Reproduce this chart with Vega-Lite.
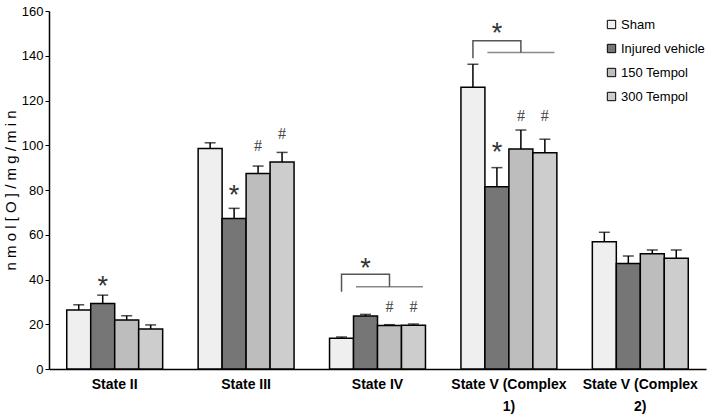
{
  "$schema": "https://vega.github.io/schema/vega-lite/v6.json",
  "width": 657,
  "height": 358,
  "autosize": {"type": "none"},
  "padding": {"left": 49, "top": 11, "right": 2, "bottom": 48},
  "background": "white",
  "config": {
    "view": {"stroke": null},
    "font": "Liberation Sans",
    "axis": {"domainColor": "black", "domainWidth": 1.5, "labelColor": "black", "tickColor": "black", "titleColor": "black", "grid": false}
  },
  "datasets": {
    "bars": [
      {"group": "State II", "series": "Sham", "mean": 26.4, "upper": 28.7},
      {"group": "State II", "series": "Injured vehicle", "mean": 29.3, "upper": 33.0},
      {"group": "State II", "series": "150 Tempol", "mean": 21.9, "upper": 23.8},
      {"group": "State II", "series": "300 Tempol", "mean": 17.9, "upper": 19.7},
      {"group": "State III", "series": "Sham", "mean": 98.6, "upper": 101.1},
      {"group": "State III", "series": "Injured vehicle", "mean": 67.3, "upper": 71.8},
      {"group": "State III", "series": "150 Tempol", "mean": 87.4, "upper": 90.7},
      {"group": "State III", "series": "300 Tempol", "mean": 92.5, "upper": 96.8},
      {"group": "State IV", "series": "Sham", "mean": 13.7, "upper": 14.3},
      {"group": "State IV", "series": "Injured vehicle", "mean": 23.7, "upper": 24.4},
      {"group": "State IV", "series": "150 Tempol", "mean": 19.4, "upper": 19.8},
      {"group": "State IV", "series": "300 Tempol", "mean": 19.6, "upper": 20.1},
      {"group": "State V (Complex 1)", "series": "Sham", "mean": 125.9, "upper": 136.2},
      {"group": "State V (Complex 1)", "series": "Injured vehicle", "mean": 81.5, "upper": 90.0},
      {"group": "State V (Complex 1)", "series": "150 Tempol", "mean": 98.3, "upper": 106.8},
      {"group": "State V (Complex 1)", "series": "300 Tempol", "mean": 96.7, "upper": 102.7},
      {"group": "State V (Complex 2)", "series": "Sham", "mean": 56.9, "upper": 61.1},
      {"group": "State V (Complex 2)", "series": "Injured vehicle", "mean": 47.2, "upper": 50.5},
      {"group": "State V (Complex 2)", "series": "150 Tempol", "mean": 51.5, "upper": 53.2},
      {"group": "State V (Complex 2)", "series": "300 Tempol", "mean": 49.5, "upper": 53.2}
    ],
    "marks": [
      {"group": "State II", "series": "Injured vehicle", "sym": "*", "v": 39.8},
      {"group": "State III", "series": "Injured vehicle", "sym": "*", "v": 80.3},
      {"group": "State III", "series": "150 Tempol", "sym": "#", "v": 100.0},
      {"group": "State III", "series": "300 Tempol", "sym": "#", "v": 105.3},
      {"group": "State IV", "series": "Injured vehicle", "sym": "*", "v": 48.0},
      {"group": "State IV", "series": "150 Tempol", "sym": "#", "v": 28.2},
      {"group": "State IV", "series": "300 Tempol", "sym": "#", "v": 28.2},
      {"group": "State V (Complex 1)", "series": "Injured vehicle", "sym": "*", "v": 99.7},
      {"group": "State V (Complex 1)", "series": "150 Tempol", "sym": "#", "v": 113.5},
      {"group": "State V (Complex 1)", "series": "300 Tempol", "sym": "#", "v": 113.5},
      {"group": "State V (Complex 1)", "series": "Injured vehicle", "sym": "*", "v": 152.7}
    ],
    "bracket": [
      {"group": "State IV", "series": "Sham", "v": 34.5, "ord": 1},
      {"group": "State IV", "series": "Sham", "v": 42.3, "ord": 2},
      {"group": "State IV", "series": "150 Tempol", "v": 42.3, "ord": 3},
      {"group": "State IV", "series": "150 Tempol", "v": 36.8, "ord": 4},
      {"group": "State V (Complex 1)", "series": "Sham", "v": 138.9, "ord": 1},
      {"group": "State V (Complex 1)", "series": "Sham", "v": 146.7, "ord": 2},
      {"group": "State V (Complex 1)", "series": "150 Tempol", "v": 146.7, "ord": 3},
      {"group": "State V (Complex 1)", "series": "150 Tempol", "v": 141.4, "ord": 4}
    ],
    "lower": [
      {"group": "State IV", "series": "150 Tempol", "v": 36.8},
      {"group": "State V (Complex 1)", "series": "150 Tempol", "v": 141.4}
    ]
  },
  "encoding": {
    "x": {
      "field": "group", "type": "nominal", "title": null,
      "scale": {"domain": ["State II", "State III", "State IV", "State V (Complex 1)", "State V (Complex 2)"], "paddingInner": 0.27, "paddingOuter": 0.135},
      "axis": {
        "labelAngle": 0, "ticks": false, "labelPadding": 8, "labelFontSize": 14, "labelFontWeight": "bold", "labelLineHeight": 22,
        "labelExpr": "datum.label == 'State V (Complex 1)' ? ['State V (Complex', '1)'] : datum.label == 'State V (Complex 2)' ? ['State V (Complex', '2)'] : datum.label"
      }
    },
    "xOffset": {
      "field": "series", "type": "nominal",
      "scale": {"domain": ["Sham", "Injured vehicle", "150 Tempol", "300 Tempol"], "paddingInner": 0, "paddingOuter": 0}
    }
  },
  "layer": [
    {
      "data": {"name": "bars"},
      "mark": {"type": "bar", "stroke": "black", "strokeWidth": 1.5},
      "encoding": {
        "y": {
          "field": "mean", "type": "quantitative",
          "scale": {"domain": [0, 160], "nice": false},
          "axis": {"values": [0, 20, 40, 60, 80, 100, 120, 140, 160], "tickSize": 4, "labelFontSize": 13, "labelPadding": 2, "title": "n m o l [ O ] / m g / m i n", "titleFontSize": 15, "titleFontWeight": "normal", "titlePadding": 3}
        },
        "fill": {
          "field": "series", "type": "nominal",
          "scale": {"domain": ["Sham", "Injured vehicle", "150 Tempol", "300 Tempol"], "range": ["#efefef", "#767676", "#bdbdbd", "#cdcdcd"]},
          "legend": {"orient": "none", "legendX": 556, "legendY": 7, "title": null, "symbolType": "square", "symbolSize": 70, "symbolStrokeColor": "black", "symbolStrokeWidth": 1, "labelFontSize": 13, "rowPadding": 10, "labelOffset": 3, "padding": 0}
        }
      }
    },
    {
      "data": {"name": "bars"},
      "mark": {"type": "rule", "color": "black", "strokeWidth": 1.5},
      "encoding": {
        "y": {"field": "mean", "type": "quantitative"},
        "y2": {"field": "upper"}
      }
    },
    {
      "data": {"name": "bars"},
      "mark": {"type": "tick", "color": "black", "thickness": 1.5, "size": 11, "orient": "horizontal"},
      "encoding": {
        "y": {"field": "upper", "type": "quantitative"}
      }
    },
    {
      "data": {"name": "marks"},
      "transform": [{"filter": "datum.sym == '*'"}],
      "mark": {"type": "text", "fontSize": 27, "color": "#333333", "baseline": "alphabetic", "dy": 15, "font": "Liberation Sans"},
      "encoding": {
        "y": {"field": "v", "type": "quantitative"},
        "text": {"field": "sym"}
      }
    },
    {
      "data": {"name": "marks"},
      "transform": [{"filter": "datum.sym == '#'"}],
      "mark": {"type": "text", "fontSize": 16, "color": "#444444", "baseline": "alphabetic", "dy": 6, "font": "Liberation Serif"},
      "encoding": {
        "y": {"field": "v", "type": "quantitative"},
        "text": {"field": "sym"}
      }
    },
    {
      "data": {"name": "bracket"},
      "mark": {"type": "line", "color": "#555555", "strokeWidth": 1.5},
      "encoding": {
        "y": {"field": "v", "type": "quantitative"},
        "order": {"field": "ord", "type": "quantitative"},
        "detail": {"field": "group"}
      }
    },
    {
      "data": {"name": "lower"},
      "mark": {"type": "tick", "color": "#555555", "thickness": 1.5, "size": 67, "orient": "horizontal"},
      "encoding": {
        "y": {"field": "v", "type": "quantitative"}
      }
    }
  ]
}
